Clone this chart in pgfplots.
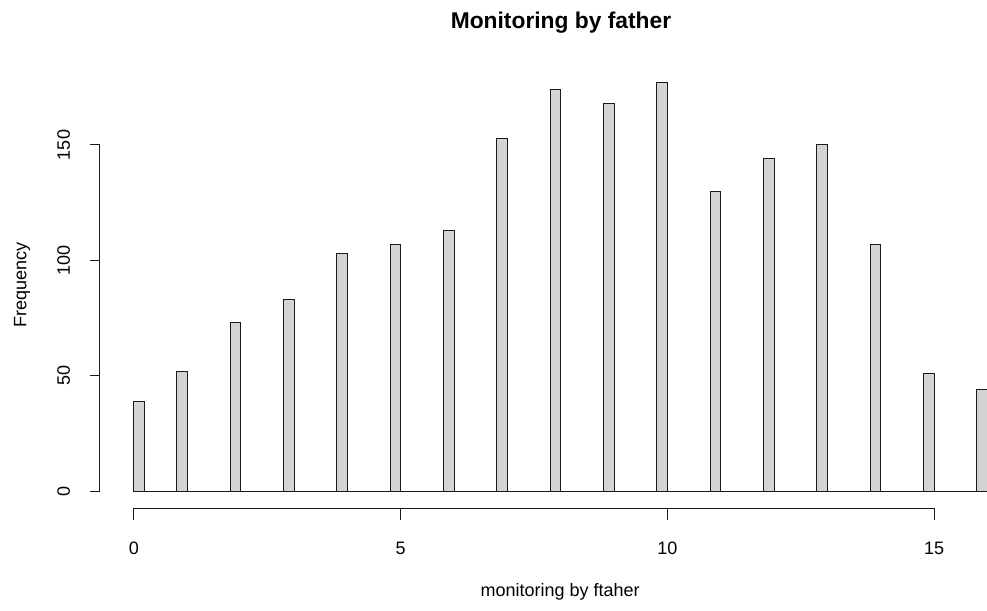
\documentclass[border=0pt]{standalone}
\usepackage{fontspec}
\setmainfont{Liberation Sans}
\usepackage{pgfplots}
\pgfplotsset{compat=1.18}
\definecolor{barfill}{HTML}{D3D3D3}
\definecolor{axcol}{HTML}{1A1A1A}
\begin{document}
\begin{tikzpicture}
\begin{axis}[
  x=53.3333pt, y=2.30667pt,
  xmin=-0.6375, xmax=16.64, ymin=0, ymax=184,
  hide axis, clip=false,
]
\addplot[sharp plot, no marks, axcol, line width=1pt] coordinates {(0,0) (16,0)};
\addplot[ybar, bar width=0.2, bar shift=0pt, fill=barfill, draw=axcol, line width=1pt] coordinates {
(0.1,39) (0.9,52) (1.9,73) (2.9,83) (3.9,103) (4.9,107) (5.9,113) (6.9,153)
(7.9,174) (8.9,168) (9.9,177) (10.9,130) (11.9,144) (12.9,150) (13.9,107)
(14.9,51) (15.9,44)};
% y axis
\draw[axcol, line width=1pt] (axis cs:-0.6375,0) -- (axis cs:-0.6375,150);
\draw[axcol, line width=1pt] (axis cs:-0.6375,0) -- (axis cs:-0.825,0);
\draw[axcol, line width=1pt] (axis cs:-0.6375,50) -- (axis cs:-0.825,50);
\draw[axcol, line width=1pt] (axis cs:-0.6375,100) -- (axis cs:-0.825,100);
\draw[axcol, line width=1pt] (axis cs:-0.6375,150) -- (axis cs:-0.825,150);
\node[rotate=90, anchor=base, inner sep=0pt, font=\fontsize{18}{18}\selectfont] at (axis cs:-1.2,0) {0};
\node[rotate=90, anchor=base, inner sep=0pt, font=\fontsize{18}{18}\selectfont] at (axis cs:-1.2,50) {50};
\node[rotate=90, anchor=base, inner sep=0pt, font=\fontsize{18}{18}\selectfont] at (axis cs:-1.2,100) {100};
\node[rotate=90, anchor=base, inner sep=0pt, font=\fontsize{18}{18}\selectfont] at (axis cs:-1.2,150) {150};
% x axis
\draw[axcol, line width=1pt] (axis cs:0,-7.37) -- (axis cs:15,-7.37);
\draw[axcol, line width=1pt] (axis cs:0,-7.37) -- (axis cs:0,-12.57);
\draw[axcol, line width=1pt] (axis cs:5,-7.37) -- (axis cs:5,-12.57);
\draw[axcol, line width=1pt] (axis cs:10,-7.37) -- (axis cs:10,-12.57);
\draw[axcol, line width=1pt] (axis cs:15,-7.37) -- (axis cs:15,-12.57);
\node[anchor=base, inner sep=0pt, font=\fontsize{18}{18}\selectfont] at (axis cs:0,-27.5) {0};
\node[anchor=base, inner sep=0pt, font=\fontsize{18}{18}\selectfont] at (axis cs:5,-27.5) {5};
\node[anchor=base, inner sep=0pt, font=\fontsize{18}{18}\selectfont] at (axis cs:10,-27.5) {10};
\node[anchor=base, inner sep=0pt, font=\fontsize{18}{18}\selectfont] at (axis cs:15,-27.5) {15};
% labels
\node[anchor=base, inner sep=0pt, font=\fontsize{18}{18}\selectfont] at (axis cs:7.99,-45.95) {monitoring by ftaher};
\node[rotate=90, anchor=base, inner sep=0pt, font=\fontsize{18}{18}\selectfont] at (axis cs:-2.0156,89.3) {Frequency};
\node[anchor=base, inner sep=0pt, font=\fontsize{22.8}{22.8}\selectfont\bfseries] at (axis cs:8.006,200.3) {Monitoring by father};
\coordinate (bbl) at (axis cs:-2.5125,-51.59);
\coordinate (btr) at (axis cs:15.99375,212.86);
\end{axis}
\pgfresetboundingbox
\path (bbl) rectangle (btr);
\end{tikzpicture}
\end{document}
